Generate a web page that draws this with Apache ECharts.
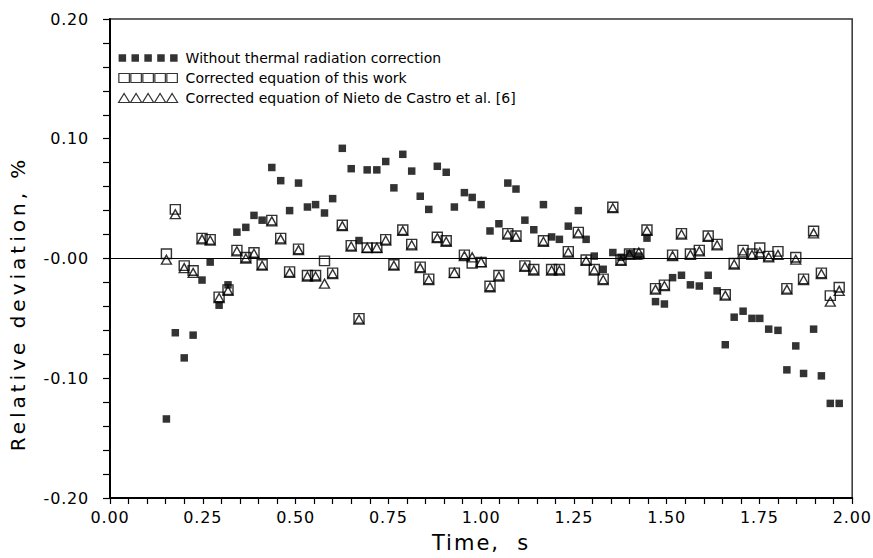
<!DOCTYPE html>
<html>
<head>
<meta charset="utf-8">
<script src="https://cdn.jsdelivr.net/npm/echarts@6/dist/echarts.min.js"></script>
<style>
  html, body { margin: 0; padding: 0; background: #fff; overflow: hidden; }
  #chart { width: 873px; height: 558px; }
  /* wide tracking for axis titles and tick numbers */
  #chart svg text[style*="Lato"] { letter-spacing: 4px; }
  #chart svg text[style*="Inter"] { letter-spacing: 2px; }
  #chart svg text[style*="Roboto"] { letter-spacing: 0.8px; }
</style>
</head>
<body>
<div id="chart"></div>
<script>
// Measurement times (s)
const times = [
  0.152, 0.176, 0.200, 0.224, 0.248, 0.270, 0.294, 0.318, 0.342, 0.366,
  0.388, 0.410, 0.436, 0.460, 0.484, 0.508, 0.532, 0.554, 0.578, 0.600,
  0.626, 0.650, 0.671, 0.693, 0.719, 0.743, 0.765, 0.789, 0.813, 0.836,
  0.859, 0.882, 0.906, 0.928, 0.955, 0.976, 1.000, 1.024, 1.048, 1.072,
  1.094, 1.118, 1.142, 1.168, 1.190, 1.211, 1.235, 1.262, 1.283, 1.305,
  1.329, 1.355, 1.377, 1.400, 1.425, 1.447, 1.470, 1.494, 1.516, 1.540,
  1.564, 1.588, 1.612, 1.636, 1.658, 1.682, 1.706, 1.730, 1.751, 1.775,
  1.800, 1.824, 1.848, 1.869, 1.896, 1.917, 1.941, 1.965
];

// Relative deviation (%) without thermal radiation correction
const uncorrected = [
  -0.134, -0.062, -0.083, -0.064, -0.018, -0.003, -0.039, -0.022, 0.022, 0.026,
  0.036, 0.032, 0.076, 0.065, 0.040, 0.063, 0.043, 0.045, 0.038, 0.050,
  0.092, 0.075, 0.015, 0.074, 0.074, 0.081, 0.059, 0.087, 0.073, 0.052,
  0.041, 0.077, 0.072, 0.043, 0.055, 0.051, 0.045, 0.023, 0.029, 0.063,
  0.058, 0.032, 0.024, 0.045, 0.018, 0.016, 0.027, 0.040, 0.016, 0.002,
  -0.009, 0.005, 0.001, 0.004, 0.002, 0.017, -0.036, -0.038, -0.016, -0.014,
  -0.022, -0.023, -0.014, -0.027, -0.072, -0.049, -0.044, -0.050, -0.050, -0.059,
  -0.060, -0.093, -0.073, -0.096, -0.059, -0.098, -0.121, -0.121
];

// Relative deviation (%) with the corrected equation of this work
const thisWork = [
  0.004, 0.041, -0.006, -0.010, 0.017, 0.016, -0.032, -0.026, 0.007, 0.001,
  0.005, -0.005, 0.032, 0.017, -0.011, 0.008, -0.014, -0.014, -0.002, -0.012,
  0.028, 0.011, -0.050, 0.009, 0.009, 0.016, -0.005, 0.024, 0.012, -0.007,
  -0.017, 0.018, 0.015, -0.012, 0.003, -0.004, -0.003, -0.023, -0.014, 0.021,
  0.019, -0.006, -0.009, 0.015, -0.009, -0.009, 0.006, 0.022, -0.001, -0.009,
  -0.017, 0.043, -0.001, 0.004, 0.004, 0.024, -0.025, -0.022, 0.003, 0.021,
  0.004, 0.007, 0.019, 0.012, -0.030, -0.004, 0.007, 0.004, 0.009, 0.002,
  0.006, -0.025, 0.001, -0.017, 0.023, -0.012, -0.031, -0.024
];

// Relative deviation (%) with the corrected equation of Nieto de Castro et al.
const nietoDeCastro = [
  -0.001, 0.037, -0.008, -0.012, 0.016, 0.015, -0.033, -0.027, 0.006, 0.000,
  0.004, -0.006, 0.031, 0.016, -0.012, 0.007, -0.015, -0.015, -0.021, -0.013,
  0.027, 0.010, -0.051, 0.009, 0.009, 0.015, -0.006, 0.023, 0.011, -0.008,
  -0.018, 0.017, 0.014, -0.012, 0.002, 0.001, -0.003, -0.024, -0.015, 0.020,
  0.018, -0.007, -0.010, 0.014, -0.010, -0.010, 0.005, 0.021, -0.002, -0.010,
  -0.018, 0.042, -0.002, 0.003, 0.005, 0.023, -0.026, -0.023, 0.002, 0.020,
  0.003, 0.006, 0.018, 0.011, -0.031, -0.005, 0.005, 0.003, 0.005, 0.001,
  0.003, -0.026, -0.001, -0.018, 0.021, -0.013, -0.036, -0.027
];

const seriesNames = [
  'Without thermal radiation correction',
  'Corrected equation of this work',
  'Corrected equation of Nieto de Castro et al. [6]'
];

const xTicks = { min: 0, max: 2, step: 0.25 };
const yTicks = { min: -0.2, max: 0.2, step: 0.1 };

const pairs = (ys) => times.map((t, i) => [t, ys[i]]);

const FONT = 'DejaVu Sans';
const FONT_TICKS = "'DejaVu Sans', Roboto";
const FONT_YNAME = "'DejaVu Sans', Lato";
const FONT_XNAME = "'DejaVu Sans', Inter";

// Legend icons: a row of five markers each
const iconFilled = 'path://M0,0h7v7h-7z M12,0h7v7h-7z M24,0h7v7h-7z M36,0h7v7h-7z M48,0h7v7h-7z';
const iconSquares = 'path://M0,0h10.5v9h-10.5z M12,0h10.5v9h-10.5z M24,0h10.5v9h-10.5z M36,0h10.5v9h-10.5z M48,0h10.5v9h-10.5z';
const iconTriangles = 'path://M5.5,0L11,9L0,9z M17.5,0L23,9L12,9z M29.5,0L35,9L24,9z M41.5,0L47,9L36,9z M53.5,0L59,9L48,9z';

const hollow = { color: 'transparent', borderColor: '#000', borderWidth: 1.4 };

const chart = echarts.init(document.getElementById('chart'), null, { renderer: 'svg' });

chart.setOption({
  animation: false,
  backgroundColor: '#fff',
  grid: {
    left: 110, right: 16, top: 19, bottom: 53,
    show: true, borderColor: '#333', borderWidth: 1.5, backgroundColor: 'transparent'
  },
  legend: {
    orient: 'vertical',
    left: 118, top: 51,
    padding: 0,
    itemWidth: 59, itemHeight: 9,
    itemGap: 6,
    selectedMode: false,
    textStyle: { fontFamily: FONT, fontSize: 14, color: '#000', padding: [0, 0, 0, 3] },
    data: [
      { name: seriesNames[0], icon: iconFilled, itemStyle: { color: '#000', borderWidth: 0 } },
      { name: seriesNames[1], icon: iconSquares, itemStyle: { color: 'transparent', borderColor: '#000', borderWidth: 1.2 } },
      { name: seriesNames[2], icon: iconTriangles, itemStyle: { color: 'transparent', borderColor: '#000', borderWidth: 1.2 } }
    ]
  },
  xAxis: {
    type: 'value',
    min: xTicks.min, max: xTicks.max, interval: xTicks.step,
    name: 'Time,  s',
    nameLocation: 'middle',
    nameGap: 34,
    nameTextStyle: { fontFamily: FONT_XNAME, fontSize: 21, color: '#000' },
    axisLine: { show: true, onZero: false, lineStyle: { color: '#000', width: 2 } },
    axisTick: { show: true, inside: false, length: 6, lineStyle: { color: '#000', width: 1.2 } },
    minorTick: { show: true, splitNumber: 5, length: 6, lineStyle: { color: '#000', width: 1.2 } },
    axisLabel: { fontFamily: FONT_TICKS, fontSize: 16, color: '#000', margin: 11, formatter: (v) => v.toFixed(2) },
    splitLine: { show: false }
  },
  yAxis: {
    type: 'value',
    min: yTicks.min, max: yTicks.max, interval: yTicks.step,
    name: 'Relative deviation, %',
    nameLocation: 'middle',
    nameGap: 82,
    nameTextStyle: { fontFamily: FONT_YNAME, fontSize: 20, color: '#000', padding: [0, 90, 0, 0] },
    axisLine: { show: true, onZero: false, lineStyle: { color: '#000', width: 2 } },
    axisTick: { show: true, inside: false, length: 7, lineStyle: { color: '#000', width: 1.2 } },
    minorTick: { show: true, splitNumber: 5, length: 7, lineStyle: { color: '#000', width: 1.2 } },
    axisLabel: {
      fontFamily: FONT_TICKS, fontSize: 16, color: '#000', margin: 21,
      formatter: (v) => (Math.abs(v) < 1e-9 ? '-0.00' : v.toFixed(2))
    },
    splitLine: { show: false }
  },
  series: [
    {
      name: seriesNames[0],
      type: 'scatter',
      symbol: 'rect',
      symbolSize: 7.5,
      itemStyle: { color: '#000' },
      emphasis: { disabled: true },
      data: pairs(uncorrected),
      z: 2,
      markLine: {
        silent: true,
        symbol: 'none',
        label: { show: false },
        lineStyle: { color: '#000', width: 1.2, type: 'solid' },
        data: [{ yAxis: 0 }]
      }
    },
    {
      name: seriesNames[1],
      type: 'scatter',
      symbol: 'rect',
      symbolSize: [10, 9.5],
      itemStyle: hollow,
      emphasis: { disabled: true },
      data: pairs(thisWork),
      z: 3
    },
    {
      name: seriesNames[2],
      type: 'scatter',
      symbol: 'triangle',
      symbolSize: [10, 9],
      itemStyle: hollow,
      emphasis: { disabled: true },
      data: pairs(nietoDeCastro),
      z: 4
    }
  ]
});
</script>
</body>
</html>
